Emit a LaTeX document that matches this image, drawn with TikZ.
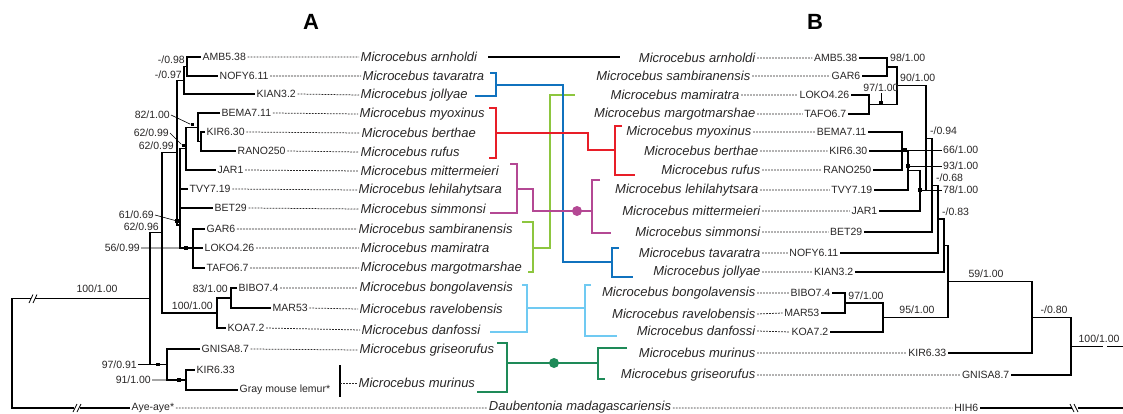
\documentclass[tikz,border=0pt]{standalone}
\usepackage{fontspec}
\setmainfont{Liberation Sans}
\usepackage{tikz}

\definecolor{textgray}{RGB}{40,38,38}
\definecolor{cladeblue}{RGB}{16,114,190}
\definecolor{cladered}{RGB}{232,30,40}
\definecolor{clademag}{RGB}{180,72,148}
\definecolor{cladelgreen}{RGB}{141,198,63}
\definecolor{cladelblue}{RGB}{112,202,242}
\definecolor{cladedgreen}{RGB}{30,138,88}

\begin{document}
\begin{tikzpicture}[x=1pt,y=-1pt,
  code/.style={font=\fontsize{10.5}{12}\selectfont, inner sep=1.5pt, text=textgray},
  species/.style={font=\fontsize{13}{15}\selectfont\itshape, inner sep=1.5pt, text=textgray},
  support/.style={font=\fontsize{10.5}{12}\selectfont, inner sep=1pt, text=textgray},
  branch/.style={line width=1.1pt},
  dots/.style={line width=0.75pt, dash pattern=on 1.8pt off 1.2pt, textgray},
  clade/.style={line width=2.4pt},
  knot/.style={fill, minimum size=3.5pt, inner sep=0pt},
  cut/.style={line width=0.8pt}]

  \useasboundingbox (0,0) rectangle (1123,414);

  \node[font=\fontsize{22}{24}\selectfont\bfseries] (headA) at (311,22) {A};
  \node[font=\fontsize{22}{24}\selectfont\bfseries] (headB) at (815,22) {B};

  % tree A: samples
  \node[code, anchor=west] (lAMB)  at (201,57)  {AMB5.38};
  \node[code, anchor=west] (lNOFY) at (218,76)  {NOFY6.11};
  \node[code, anchor=west] (lKIAN) at (255,94)  {KIAN3.2};
  \node[code, anchor=west] (lBEMA) at (220,113) {BEMA7.11};
  \node[code, anchor=west] (lKIR)  at (205,132) {KIR6.30};
  \node[code, anchor=west] (lRANO) at (236,151) {RANO250};
  \node[code, anchor=west] (lJAR)  at (216,170) {JAR1};
  \node[code, anchor=west] (lTVY)  at (188,189) {TVY7.19};
  \node[code, anchor=west] (lBET)  at (213,208) {BET29};
  \node[code, anchor=west] (lGAR)  at (205,229) {GAR6};
  \node[code, anchor=west] (lLOKO) at (203,248) {LOKO4.26};
  \node[code, anchor=west] (lTAFO) at (205,268) {TAFO6.7};
  \node[code, anchor=west] (lBIBO) at (237,288) {BIBO7.4};
  \node[code, anchor=west] (lMAR)  at (271,308) {MAR53};
  \node[code, anchor=west] (lKOA)  at (226,328) {KOA7.2};
  \node[code, anchor=west] (lGNISA) at (200,349) {GNISA8.7};
  \node[code, anchor=west] (lKIR2) at (195,370) {KIR6.33};
  \node[code, anchor=west] (lGRAY) at (238,390) {Gray mouse lemur*};
  \node[code, anchor=west] (lAYE)  at (130,408) {Aye-aye*};

  % tree A: species
  \node[species, anchor=west] (lArn) at (359,57)  {Microcebus arnholdi};
  \node[species, anchor=west] (lTav) at (361,76)  {Microcebus tavaratra};
  \node[species, anchor=west] (lJol) at (359,95)  {Microcebus jollyae};
  \node[species, anchor=west] (lMyo) at (358,114) {Microcebus myoxinus};
  \node[species, anchor=west] (lBer) at (360,133) {Microcebus berthae};
  \node[species, anchor=west] (lRuf) at (359,152) {Microcebus rufus};
  \node[species, anchor=west] (lMit) at (359,171) {Microcebus mittermeieri};
  \node[species, anchor=west] (lLeh) at (357,190) {Microcebus lehilahytsara};
  \node[species, anchor=west] (lSim) at (359,209) {Microcebus simmonsi};
  \node[species, anchor=west] (lSam) at (357,229) {Microcebus sambiranensis};
  \node[species, anchor=west] (lMam) at (359,248) {Microcebus mamiratra};
  \node[species, anchor=west] (lMar) at (359,268) {Microcebus margotmarshae};
  \node[species, anchor=west] (lBon) at (358,288) {Microcebus bongolavensis};
  \node[species, anchor=west] (lRav) at (358,309) {Microcebus ravelobensis};
  \node[species, anchor=west] (lDan) at (360,330) {Microcebus danfossi};
  \node[species, anchor=west] (lGri) at (358,350) {Microcebus griseorufus};
  \node[species, anchor=west] (lMur) at (357,383) {Microcebus murinus};
  \node[species] (dau) at (580,407) {Daubentonia madagascariensis};

  \draw[dots] (lAMB.east) -- (lArn.west) (lNOFY.east) -- (lTav.west)
    (lKIAN.east) -- (lJol.west) (lBEMA.east) -- (lMyo.west)
    (lKIR.east) -- (lBer.west) (lRANO.east) -- (lRuf.west)
    (lJAR.east) -- (lMit.west) (lTVY.east) -- (lLeh.west)
    (lBET.east) -- (lSim.west) (lGAR.east) -- (lSam.west)
    (lLOKO.east) -- (lMam.west) (lTAFO.east) -- (lMar.west)
    (lBIBO.east) -- (lBon.west) (lMAR.east) -- (lRav.west)
    (lKOA.east) -- (lDan.west) (lGNISA.east) -- (lGri.west)
    (lAYE.east) -- (dau.west |- lAYE);

  \coordinate (barT) at (340,365);
  \coordinate (barB) at (340,397);
  \draw[branch] (barT) -- (barB);
  \draw[dots] (340,383) -- (lMur.west);

  % tree A: nodes
  \coordinate (a1) at (187,66.5);
  \coordinate (a2) at (184,80.25);
  \coordinate (b1) at (201,141.5);
  \coordinate (b2) at (198,127.25);
  \coordinate (b3) at (186,148.6);
  \coordinate (c1) at (193,248);
  \coordinate (e)  at (180,225);
  \coordinate (f)  at (177,152.6);
  \coordinate (k0) at (231,298);
  \coordinate (k1) at (217,313);
  \coordinate (g)  at (162,232.8);
  \coordinate (m0) at (186,380);
  \coordinate (m1) at (167,364.5);
  \coordinate (h)  at (150,298.7);
  \coordinate (rootA) at (12,298.7);

%  \draw (e) node {e};
%  \draw (f) node {f};

  \draw[branch] (lAMB.west) -| (a1) |- (lNOFY.west);
  \draw[branch] (a1) -| (a2) |- (lKIAN.west);
  \draw[branch] (lKIR.west) -| (b1) |- (lRANO.west);
  \draw[branch] (lBEMA.west) -| (b2) |- (b1);
  \draw[branch] (b2) -| (b3) |- (lJAR.west);
  \draw[branch] (lGAR.west) -| (c1) |- (lTAFO.west);
  \draw[branch] (c1) -- (lLOKO.west);
  \draw[branch] (b3) -| (e) |- (c1);
  \draw[branch] (e) |- (lTVY.west);
  \draw[branch] (e) |- (lBET.west);
  \draw[branch] (a2) -| (f) |- (e);
  \draw[branch] (lBIBO.west) -| (k0) |- (lMAR.west);
  \draw[branch] (k0) -| (k1) |- (lKOA.west);
  \draw[branch] (f) -| (g) |- (k1);
  \draw[branch] (lKIR2.west) -| (m0) |- (lGRAY.west);
  \draw[branch] (lGNISA.west) -| (m1) |- (m0);
  \draw[branch] (g) -| (h) |- (m1);

  \draw[branch] (h) -- (35,298.7);
  \draw[branch] (31,298.7) -- (rootA) -- (12,408) -- (74,408);
  \draw[branch] (80,408) -- (lAYE.west);
  \draw[cut] (29,303) -- (33,294.5) (33,303) -- (37,294.5);
  \draw[cut] (73,412) -- (77,404) (77,412) -- (81,404);

  % tree A: support values
  \node[support, anchor=east] (sA1) at (186,60) {-/0.98};
  \node[support, anchor=east] (sA2) at (183,75) {-/0.97};
  \node[support, anchor=east] (sA3) at (171,115) {82/1.00};
  \node[support, anchor=east] (sA4) at (170,133) {62/0.99};
  \node[support, anchor=east] (sA5) at (175,146) {62/0.99};
  \node[support, anchor=east] (sA6) at (155,215) {61/0.69};
  \node[support, anchor=east] (sA7) at (160,227) {62/0.96};
  \node[support, anchor=east] (sA8) at (141,248) {56/0.99};
  \node[support] (sA9) at (97,289) {100/1.00};
  \node[support, anchor=east] (sA10) at (229,289) {83/1.00};
  \node[support, anchor=east] (sA11) at (214,306) {100/1.00};
  \node[support, anchor=east] (sA12) at (138,364.5) {97/0.91};
  \node[support, anchor=east] (sA13) at (152,380) {91/1.00};

  \node[knot, minimum size=3pt] (kA3) at (192,125) {};
  \node[knot, minimum size=3pt] (kA4) at (183,146) {};
  \node[knot] (kA6) at (177,221) {};
  \node[knot] (kA8) at (186,248) {};
  \node[knot] (kA12) at (158,364.5) {};
  \node[knot] (kA13) at (179,380) {};
  \draw[line width=0.6pt] (sA3.east) -- (kA3) (sA4.east) -- (kA4)
    (sA6.east) -- (kA6) (sA8.east) -- (kA8)
    (sA12.east) -- (kA12) (sA13.east) -- (kA13);

  % tree B: samples
  \node[code, anchor=east] (rAMB)  at (859,58)  {AMB5.38};
  \node[code, anchor=east] (rGAR)  at (862,76)  {GAR6};
  \node[code, anchor=east] (rLOKO) at (851,95)  {LOKO4.26};
  \node[code, anchor=east] (rTAFO) at (848,114) {TAFO6.7};
  \node[code, anchor=east] (rBEMA) at (868,132) {BEMA7.11};
  \node[code, anchor=east] (rKIR)  at (869,151) {KIR6.30};
  \node[code, anchor=east] (rRANO) at (873,170) {RANO250};
  \node[code, anchor=east] (rTVY)  at (874,190) {TVY7.19};
  \node[code, anchor=east] (rJAR)  at (879,211) {JAR1};
  \node[code, anchor=east] (rBET)  at (864,232) {BET29};
  \node[code, anchor=east] (rNOFY) at (840,253) {NOFY6.11};
  \node[code, anchor=east] (rKIAN) at (855,272) {KIAN3.2};
  \node[code, anchor=east] (rBIBO) at (832,293) {BIBO7.4};
  \node[code, anchor=east] (rMAR)  at (821,313) {MAR53};
  \node[code, anchor=east] (rKOA)  at (830,332) {KOA7.2};
  \node[code, anchor=east] (rKIR2) at (948,353) {KIR6.33};
  \node[code, anchor=east] (rGNISA) at (1011,375) {GNISA8.7};
  \node[code, anchor=east] (rHIH)  at (980,408) {HIH6};

  % tree B: species
  \node[species, anchor=east] (rArn) at (757,58)  {Microcebus arnholdi};
  \node[species, anchor=east] (rSam) at (752,76)  {Microcebus sambiranensis};
  \node[species, anchor=east] (rMam) at (741,95)  {Microcebus mamiratra};
  \node[species, anchor=east] (rMar) at (757,114) {Microcebus margotmarshae};
  \node[species, anchor=east] (rMyo) at (753,132) {Microcebus myoxinus};
  \node[species, anchor=east] (rBer) at (760,151) {Microcebus berthae};
  \node[species, anchor=east] (rRuf) at (762,170) {Microcebus rufus};
  \node[species, anchor=east] (rLeh) at (760,190) {Microcebus lehilahytsara};
  \node[species, anchor=east] (rMit) at (762,211) {Microcebus mittermeieri};
  \node[species, anchor=east] (rSim) at (762,232) {Microcebus simmonsi};
  \node[species, anchor=east] (rTav) at (762,253) {Microcebus tavaratra};
  \node[species, anchor=east] (rJol) at (762,272) {Microcebus jollyae};
  \node[species, anchor=east] (rBon) at (757,293) {Microcebus bongolavensis};
  \node[species, anchor=east] (rRav) at (757,314) {Microcebus ravelobensis};
  \node[species, anchor=east] (rDan) at (757,331) {Microcebus danfossi};
  \node[species, anchor=east] (rMur) at (757,353) {Microcebus murinus};
  \node[species, anchor=east] (rGri) at (757,375) {Microcebus griseorufus};

  \draw[dots] (rArn.east) -- (rAMB.west) (rSam.east) -- (rGAR.west)
    (rMam.east) -- (rLOKO.west) (rMar.east) -- (rTAFO.west)
    (rMyo.east) -- (rBEMA.west) (rBer.east) -- (rKIR.west)
    (rRuf.east) -- (rRANO.west) (rLeh.east) -- (rTVY.west)
    (rMit.east) -- (rJAR.west) (rSim.east) -- (rBET.west)
    (rTav.east) -- (rNOFY.west) (rJol.east) -- (rKIAN.west)
    (rBon.east) -- (rBIBO.west) (rRav.east) -- (rMAR.west)
    (rDan.east) -- (rKOA.west) (rMur.east) -- (rKIR2.west)
    (rGri.east) -- (rGNISA.west) (dau.east |- rHIH) -- (rHIH.west);

  % tree B: nodes
  \coordinate (n98) at (887,67);
  \coordinate (n97) at (869,104.5);
  \coordinate (n90) at (897,85.75);
  \coordinate (m1B) at (902,151);
  \coordinate (m2B) at (908,170.5);
  \coordinate (m3B) at (920,190.75);
  \coordinate (zB) at (926,138.25);
  \coordinate (yB) at (932,185.1);
  \coordinate (xB) at (938,219);
  \coordinate (wB) at (944,245.5);
  \coordinate (q0) at (845,303);
  \coordinate (q1) at (883,317.5);
  \coordinate (r3) at (948,281.5);
  \coordinate (r2) at (1032,317.25);
  \coordinate (r1) at (1071,346.1);

  \draw[branch] (rAMB.east) -| (n98) |- (rGAR.east);
  \draw[branch] (rLOKO.east) -| (n97) |- (rTAFO.east);
  \draw[branch] (n98) -| (n90) |- (n97);
  \draw[branch] (rBEMA.east) -| (m1B) |- (rRANO.east);
  \draw[branch] (rKIR.east) -- (m1B);
  \draw[branch] (m1B) -| (m2B) |- (rTVY.east);
  \draw[branch] (m2B) -| (m3B) |- (rJAR.east);
  \draw[branch] (n90) -| (zB) |- (m3B);
  \draw[branch] (zB) -| (yB) |- (rBET.east);
  \draw[branch] (yB) -| (xB) |- (rNOFY.east);
  \draw[branch] (xB) -| (wB) |- (rKIAN.east);
  \draw[branch] (rBIBO.east) -| (q0) |- (rMAR.east);
  \draw[branch] (q0) -| (q1) |- (rKOA.east);
  \draw[branch] (wB) -| (r3) |- (q1);
  \draw[branch] (r3) -| (r2) |- (rKIR2.east);
  \draw[branch] (r2) -| (r1) |- (rGNISA.east);

  \draw[branch] (r1) -- (1103,346.1);
  \draw[branch] (1107,346.1) -- (1123,346.1);
  \draw[branch] (rHIH.east) -- (1072,408);
  \draw[branch] (1078,408) -- (1123,408);
  \draw[cut] (1070,404) -- (1074,412) (1074,404) -- (1078,412);

  % tree B: support values
  \node[support, anchor=west] (sB1) at (889,58) {98/1.00};
  \node[support] (sB2) at (881,88) {97/1.00};
  \node[support, anchor=west] (sB3) at (899,78) {90/1.00};
  \node[support, anchor=west] (sB4) at (929,131) {-/0.94};
  \node[support, anchor=west] (sB5) at (942,150) {66/1.00};
  \node[support, anchor=west] (sB6) at (942,166) {93/1.00};
  \node[support, anchor=west] (sB7) at (935,178) {-/0.68};
  \node[support, anchor=west] (sB8) at (942,190) {78/1.00};
  \node[support, anchor=west] (sB9) at (941,212) {-/0.83};
  \node[support] (sB10) at (986,274) {59/1.00};
  \node[support] (sB11) at (866,296) {97/1.00};
  \node[support] (sB12) at (917,310) {95/1.00};
  \node[support] (sB13) at (1054,310) {-/0.80};
  \node[support] (sB14) at (1099,339) {100/1.00};

  \node[knot] (kB2) at (881,103) {};
  \node[knot] (kB5) at (905,150) {};
  \node[knot] (kB6) at (908,166) {};
  \node[knot] (kB8) at (920,190) {};
  \draw[line width=0.6pt] (sB2.south) -- (kB2) (kB5) -- (sB5.west)
    (kB6) -- (sB6.west) (kB8) -- (sB8.west);

  % links between the two trees
  \draw[clade, black] (488,57) -- (620,57);
  \draw[clade, cladelgreen] (522,222) -| (533,272) -- (528,272);
  \draw[clade, cladelgreen] (533,248) -| (550,95) -- (575,95);
  \draw[clade, cladeblue] (490,73) -| (496,96) -- (475,96);
  \draw[clade, cladeblue] (496,85) -| (563,262) -- (612,262);
  \draw[clade, cladeblue] (619,248) -| (612,277) -- (633,277);
  \draw[clade, cladered] (489,108) -| (496,158) -- (489,158);
  \draw[clade, cladered] (496,133) -| (588,150) -- (615,150);
  \draw[clade, cladered] (622,126) -| (615,175) -- (635,175);
  \draw[clade, clademag] (510,164) -| (517,213) -- (490,213);
  \draw[clade, clademag] (517,189) -| (533,211) -- (592,211);
  \draw[clade, clademag] (600,180) -| (592,233) -- (611,233);
  \node[circle, fill=clademag, minimum size=10pt, inner sep=0pt] (magdot) at (577,211) {};
  \draw[clade, cladelblue] (522,285) -| (527,332) -- (490,332);
  \draw[clade, cladelblue] (527,308) -- (585,308);
  \draw[clade, cladelblue] (591,285) -| (585,336) -- (617,336);
  \draw[clade, cladedgreen] (497,343) -| (507,392) -- (477,392);
  \draw[clade, cladedgreen] (507,363) -- (598,363);
  \draw[clade, cladedgreen] (627,348) -| (598,379) -- (605,379);
  \node[circle, fill=cladedgreen, minimum size=10pt, inner sep=0pt] (greendot) at (554,363) {};

\end{tikzpicture}
\end{document}
